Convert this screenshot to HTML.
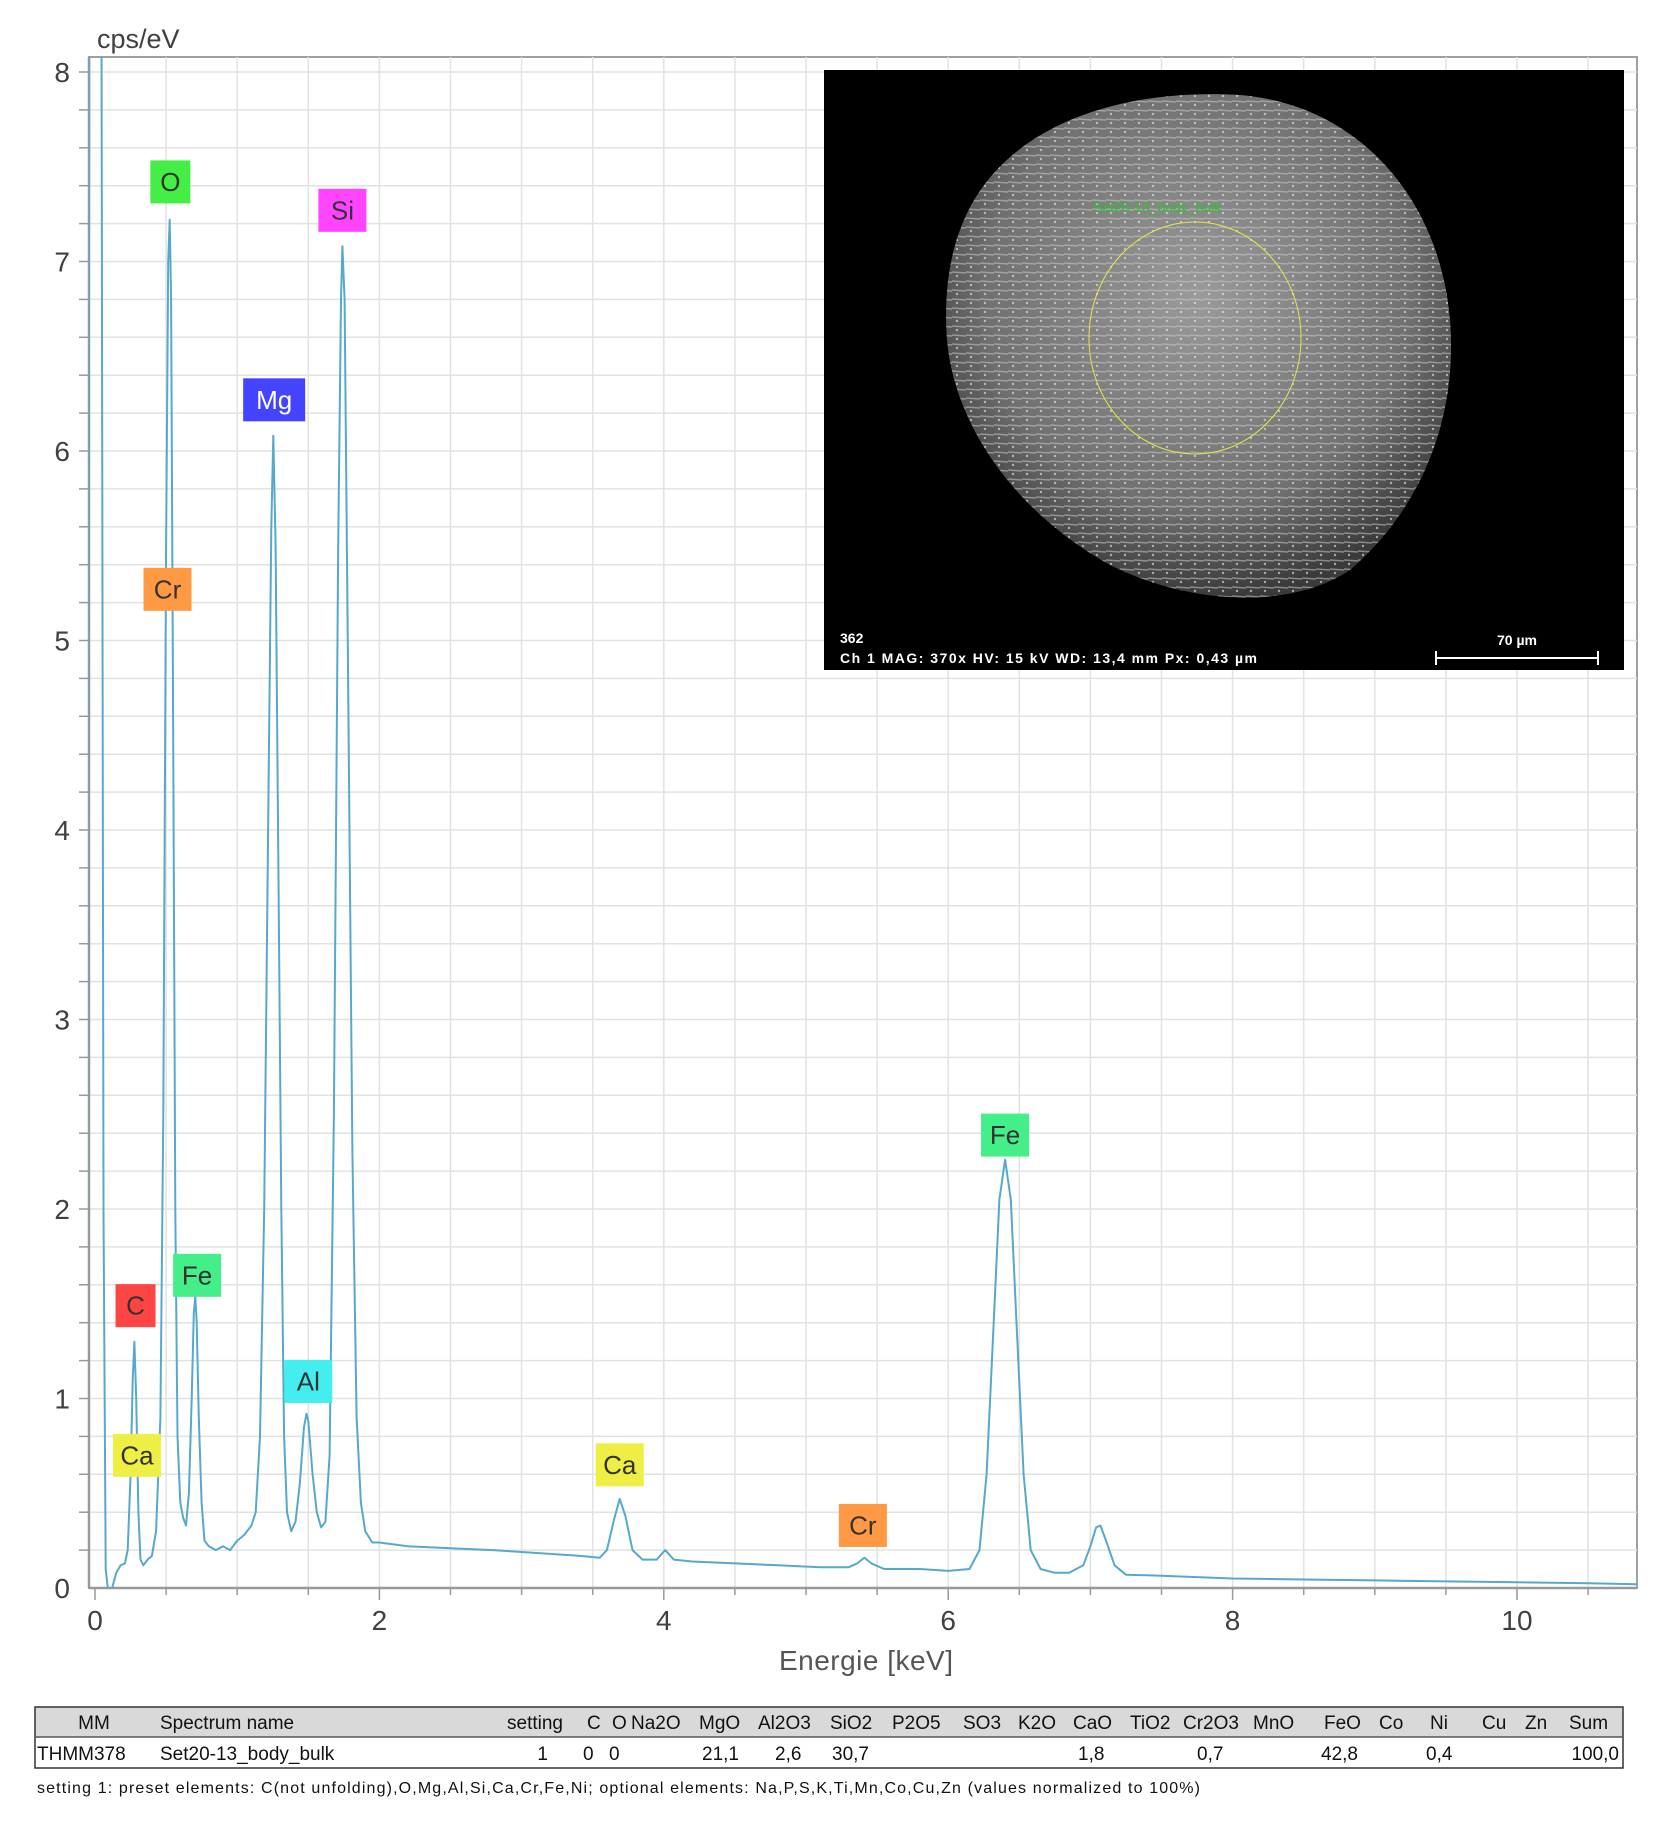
<!DOCTYPE html>
<html><head><meta charset="utf-8"><style>
html,body{margin:0;padding:0;background:#fff;}
svg{display:block;font-family:"Liberation Sans",sans-serif;}
</style></head><body>
<svg id="chart" width="1668" height="1842" viewBox="0 0 1668 1842">
<defs>
<clipPath id="plotclip"><rect x="89" y="57" width="1548" height="1531"/></clipPath>
<radialGradient id="egggrad" cx="0.5" cy="0.4" r="0.6">
<stop offset="0" stop-color="#9a9a9a"/><stop offset="0.7" stop-color="#707070"/><stop offset="1" stop-color="#3a3a3a"/>
</radialGradient>
<pattern id="stripes" width="14" height="9" patternUnits="userSpaceOnUse">
<rect width="14" height="9" fill="none"/><path d="M0 2 L14 3" stroke="#c8c8c8" stroke-width="1.4" opacity="0.55"/><circle cx="5" cy="6" r="1.2" fill="#eee" opacity="0.6"/>
</pattern>
</defs>
<g id="grid"></g>
<g id="axes"></g>
<g id="series" clip-path="url(#plotclip)"></g>
<g id="labels"></g>

<g>
<rect x="824" y="70" width="800" height="600" fill="#000"/>
<path d="M960 230 C 1000 120, 1130 88, 1240 95 C 1360 105, 1440 200, 1450 320 C 1458 420, 1420 510, 1350 570 C 1290 610, 1190 605, 1110 565 C 1020 515, 955 430, 947 340 C 944 300, 948 262, 960 230 Z" fill="url(#egggrad)"/>
<path d="M960 230 C 1000 120, 1130 88, 1240 95 C 1360 105, 1440 200, 1450 320 C 1458 420, 1420 510, 1350 570 C 1290 610, 1190 605, 1110 565 C 1020 515, 955 430, 947 340 C 944 300, 948 262, 960 230 Z" fill="url(#stripes)"/>
<ellipse cx="1195" cy="338" rx="106" ry="116" fill="none" stroke="#e6e64a" stroke-width="1"/>
<text x="1093" y="212" font-size="14" fill="#2ec02e">Set20-13_body_bulk</text>
<text x="840" y="643" font-size="14" font-weight="bold" fill="#fff">362</text>
<text x="840" y="663" font-size="14" font-weight="bold" fill="#fff" textLength="417">Ch 1    MAG: 370x    HV: 15 kV    WD: 13,4 mm    Px: 0,43 µm</text>
<text x="1517" y="645" font-size="14" font-weight="bold" fill="#fff" text-anchor="middle">70 µm</text>
<path d="M1436 658 H1598 M1436 651 V665 M1598 651 V665" stroke="#fff" stroke-width="2"/>
</g>

<g font-size="19" fill="#111">
<rect x="35" y="1707" width="1588" height="30" fill="#d9d9d9"/>
<rect x="35" y="1707" width="1588" height="61" fill="none" stroke="#333" stroke-width="1.5"/>
<line x1="35" y1="1737" x2="1623" y2="1737" stroke="#555" stroke-width="1.5"/>
<g id="thead"></g>
<g id="trow"></g>
<text x="37" y="1793" font-size="16" textLength="1163">setting 1: preset elements: C(not unfolding),O,Mg,Al,Si,Ca,Cr,Fe,Ni; optional elements: Na,P,S,K,Ti,Mn,Co,Cu,Zn (values normalized to 100%)</text>
</g>
</svg>
<script>
// Spectrum data (keV, cps/eV)
const energies = [-0.05,-0.04,-0.03,0.00,0.01,0.02,0.03,0.045,0.06,0.075,0.09,0.12,0.15,0.18,0.21,0.23,0.25,0.265,0.277,0.29,0.305,0.32,0.34,0.37,0.40,0.43,0.46,0.48,0.50,0.515,0.525,0.535,0.55,0.565,0.58,0.60,0.62,0.64,0.66,0.68,0.695,0.705,0.715,0.73,0.75,0.77,0.80,0.85,0.90,0.95,1.00,1.05,1.10,1.13,1.16,1.19,1.22,1.24,1.254,1.27,1.29,1.31,1.33,1.35,1.38,1.41,1.44,1.47,1.487,1.50,1.53,1.56,1.59,1.62,1.65,1.68,1.71,1.73,1.74,1.755,1.78,1.81,1.84,1.87,1.90,1.95,2.0,2.2,2.5,2.8,3.0,3.2,3.4,3.55,3.6,3.65,3.69,3.73,3.78,3.85,3.95,4.01,4.07,4.2,4.5,4.8,5.1,5.3,5.36,5.41,5.46,5.55,5.8,6.0,6.15,6.22,6.27,6.32,6.36,6.40,6.44,6.48,6.53,6.58,6.65,6.75,6.85,6.95,7.0,7.04,7.07,7.11,7.17,7.25,7.5,8.0,8.5,9.0,9.5,10.0,10.5,10.84];
const counts = [0.0,8.6,8.6,8.6,8.6,8.6,8.6,8.6,2.0,0.1,0.0,0.0,0.08,0.12,0.13,0.2,0.6,1.1,1.3,1.0,0.4,0.15,0.12,0.15,0.17,0.3,0.9,2.5,5.5,7.0,7.22,6.8,4.5,2.0,0.8,0.45,0.37,0.33,0.5,1.0,1.45,1.54,1.4,0.9,0.45,0.25,0.22,0.2,0.22,0.2,0.25,0.28,0.33,0.4,0.8,2.0,4.2,5.6,6.08,5.5,3.8,2.0,0.8,0.4,0.3,0.35,0.55,0.85,0.92,0.88,0.6,0.4,0.32,0.35,0.7,2.5,5.5,6.8,7.08,6.8,4.8,2.3,0.9,0.45,0.3,0.24,0.24,0.22,0.21,0.2,0.19,0.18,0.17,0.16,0.2,0.36,0.47,0.38,0.2,0.15,0.15,0.2,0.15,0.14,0.13,0.12,0.11,0.11,0.13,0.16,0.13,0.1,0.1,0.09,0.1,0.2,0.6,1.4,2.05,2.26,2.05,1.4,0.6,0.2,0.1,0.08,0.08,0.12,0.22,0.32,0.33,0.25,0.12,0.07,0.065,0.05,0.045,0.04,0.035,0.03,0.025,0.02];
const yTicks = [0,1,2,3,4,5,6,7,8];
const xTicks = [0,2,4,6,8,10];
const labelNames = ["O","Si","Mg","Cr","C","Fe","Al","Ca","Ca","Cr","Fe"];
const labelEnergies = [0.53,1.74,1.26,0.51,0.285,0.718,1.50,0.295,3.69,5.40,6.40];
const labelLevels = [7.42,7.27,6.27,5.27,1.49,1.65,1.09,0.70,0.65,0.33,2.39];
const labelColors = ["#44ee44","#ff44ff","#4444ff","#ff9944","#ff4444","#44ee88","#44eeee","#eeee44","#eeee44","#ff9944","#44ee88"];

const NS="http://www.w3.org/2000/svg";
const X0=89,X1=1637,Y0=57,Y1=1588;
const xs=e=>95+e*142.2;
const ys=v=>1588-v*189.5;
function mk(tag,attrs,parent){const el=document.createElementNS(NS,tag);for(const k in attrs)el.setAttribute(k,attrs[k]);parent.appendChild(el);return el;}
const grid=document.getElementById('grid'),axes=document.getElementById('axes');
mk('rect',{x:X0,y:Y0,width:X1-X0,height:Y1-Y0,fill:'#fff',stroke:'#a0a0a0','stroke-width':2},grid);
for(let i=1;i<=40;i++){const y=ys(i*0.2);if(y<Y0)break;
 const l=mk('line',{x1:X0,x2:X1,y1:y,y2:y,stroke:'#e2e2e2','stroke-width':1.5},grid);
 
 
 const t=mk('line',{x1:79,x2:X0,y1:y,y2:y,stroke:'#999','stroke-width':1.5},axes);
 
 }
for(let i=1;i<22;i++){const x=xs(i*0.5);if(x>=X1)break;
 const l=mk('line',{x1:x,x2:x,y1:Y0,y2:Y1,stroke:'#e2e2e2','stroke-width':1.5},grid);
 
 }
for(let i=0;i<22;i++){const x=xs(i*0.5);if(x>=X1)break;
 const t=mk('line',{x1:x,x2:x,y1:Y1,y2:Y1+(i%4===0?12:7),stroke:'#999','stroke-width':1.5},axes);
 
 }
mk('line',{x1:X0,x2:X1,y1:Y1,y2:Y1,stroke:'#999','stroke-width':2.5},axes);
mk('line',{x1:X0,x2:X0,y1:Y0,y2:Y1,stroke:'#999','stroke-width':2.5},axes);
yTicks.forEach(v=>{const t=mk('text',{x:70,y:ys(v)+10,'text-anchor':'end','font-size':28,fill:'#404040'},axes);t.textContent=v;
 
 });
xTicks.forEach(v=>{const t=mk('text',{x:xs(v),y:1630,'text-anchor':'middle','font-size':28,fill:'#404040'},axes);t.textContent=v;
 
 });
const yt=mk('text',{x:97,y:48,'font-size':27,fill:'#404040'},axes);yt.textContent='cps/eV';


const xt=mk('text',{x:866,y:1670,'text-anchor':'middle','font-size':28,fill:'#555',textLength:174},axes);xt.textContent='Energie [keV]';



const pts=energies.map((e,i)=>xs(e).toFixed(1)+','+ys(counts[i]).toFixed(1)).join(' ');
const pl=mk('polyline',{points:pts,fill:'none',stroke:'#56a9cc','stroke-width':2,'stroke-linejoin':'round'},document.getElementById('series'));



const lab=document.getElementById('labels');
labelNames.forEach((n,i)=>{const w=n==='Mg'?62:(n.length>1?48:40),h=43;const cx=xs(labelEnergies[i]),cy=ys(labelLevels[i]);
 const g=mk('g',{},lab);
 
 
 mk('rect',{x:cx-w/2,y:cy-h/2,width:w,height:h,fill:labelColors[i]},g);
 const t=mk('text',{x:cx,y:cy+9,'text-anchor':'middle','font-size':26,fill:n==='Mg'?'#fff':'#333'},g);t.textContent=n;});

const headers=[["MM",94,"middle"],["Spectrum name",160,"start"],["setting",507,"start"],["C",587,"start"],["O",612,"start"],["Na2O",631,"start"],["MgO",699,"start"],["Al2O3",758,"start"],["SiO2",830,"start"],["P2O5",892,"start"],["SO3",963,"start"],["K2O",1018,"start"],["CaO",1073,"start"],["TiO2",1130,"start"],["Cr2O3",1183,"start"],["MnO",1253,"start"],["FeO",1324,"start"],["Co",1379,"start"],["Ni",1430,"start"],["Cu",1482,"start"],["Zn",1525,"start"],["Sum",1569,"start"]];
const rowVals=[["THMM378",37,"start"],["Set20-13_body_bulk",160,"start"],["1",548,"end"],["0",583,"start"],["0",609,"start"],["21,1",702,"start"],["2,6",775,"start"],["30,7",832,"start"],["1,8",1078,"start"],["0,7",1197,"start"],["42,8",1321,"start"],["0,4",1426,"start"],["100,0",1619,"end"]];
const th=document.getElementById('thead'),tr=document.getElementById('trow');
headers.forEach(h=>{const t=mk('text',{x:h[1],y:1729,'text-anchor':h[2]},th);t.textContent=h[0];
 
 });
rowVals.forEach(h=>{const t=mk('text',{x:h[1],y:1760,'text-anchor':h[2]},tr);t.textContent=h[0];
 
 });
</script>
</body></html>
